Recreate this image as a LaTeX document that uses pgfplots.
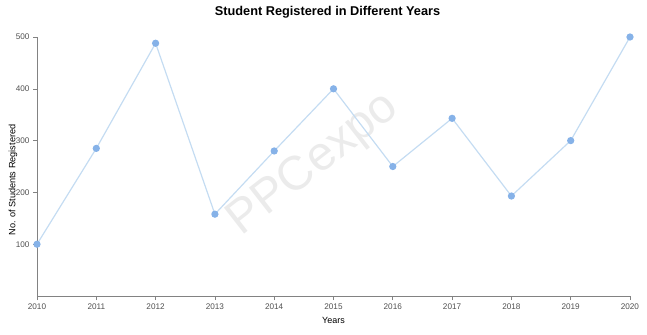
\documentclass[border=0pt]{standalone}
\usepackage{fontspec}
\setmainfont{Liberation Sans}
\usepackage{pgfplots}
\pgfplotsset{compat=1.18}
\definecolor{linec}{RGB}{196,220,242}
\definecolor{markc}{RGB}{134,178,232}
\definecolor{axc}{RGB}{130,130,130}
\definecolor{tickc}{RGB}{80,80,80}
\begin{document}
\begin{tikzpicture}[x=1bp,y=1bp]
\useasboundingbox (-37,-38) rectangle (610,296);
\node[rotate=38, text=black!8, font=\fontsize{48}{48}\selectfont] at (277,131) {PPCexpo};
\begin{axis}[
  at={(0,0)}, anchor=south west,
  scale only axis, width=593bp, height=259bp,
  xmin=2010, xmax=2020, ymin=0, ymax=500,
  axis lines*=left,
  axis line style={axc, line width=0.8pt, -},
  xtick={2010,...,2020},
  ytick={100,200,300,400,500},
  xticklabel style={/pgf/number format/1000 sep=, text=tickc, font=\fontsize{8.2}{9}\selectfont},
  yticklabel style={text=tickc, font=\fontsize{8.2}{9}\selectfont},
  /pgf/number format/assume math mode=true,
  tick style={axc, line width=0.6pt},
  tick align=outside, major tick length=4bp,
  clip=false,
  title={\textbf{Student Registered in Different Years}},
  title style={at={(0.4899,1)}, anchor=south, yshift=9bp, font=\fontsize{12.8}{14}\selectfont},
  xlabel={Years},
  xlabel style={font=\fontsize{9}{10}\selectfont, at={(0.5,0)}, anchor=center, yshift=-24bp},
]
\addplot[color=linec, line width=1.2pt, mark=*, mark size=3pt, mark options={fill=markc, draw=markc}]
coordinates {
(2010,100) (2011,285) (2012,488) (2013,158) (2014,280) (2015,400)
(2016,250) (2017,343) (2018,193) (2019,300) (2020,500)
};
\end{axis}
\node[rotate=90, font=\fontsize{9.2}{10}\selectfont, anchor=center] at (-24,116) {No. of Students Registered};
\end{tikzpicture}
\end{document}
